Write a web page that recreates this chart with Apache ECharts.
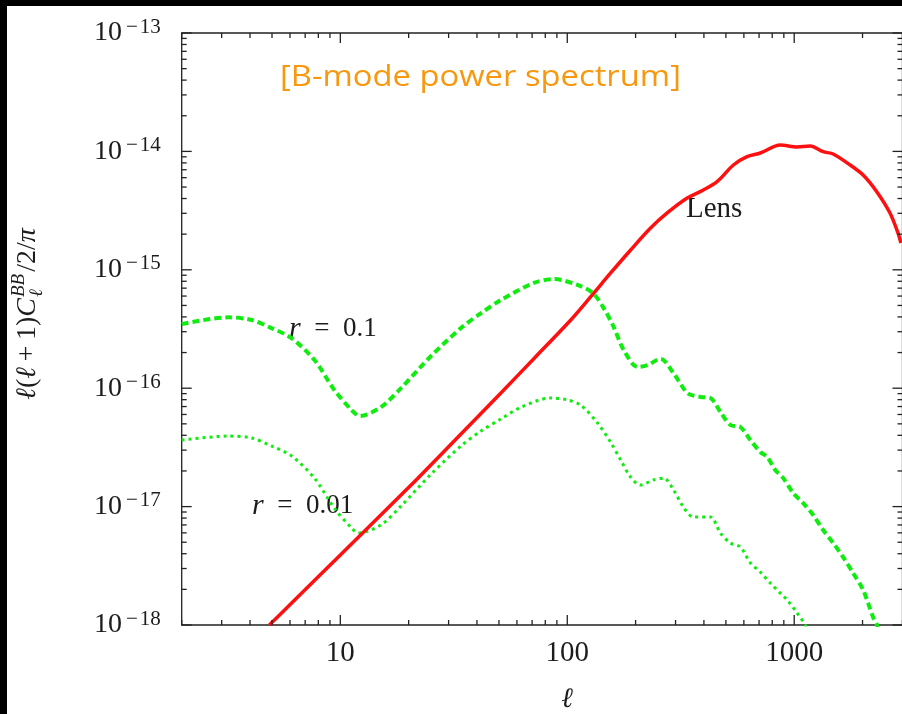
<!DOCTYPE html>
<html>
<head>
<meta charset="utf-8">
<script src="https://cdn.jsdelivr.net/npm/echarts@6/dist/echarts.min.js"></script>
<style>
  html, body { margin: 0; padding: 0; background: #fff; overflow: hidden; }
  #chart { width: 902px; height: 714px; }
</style>
</head>
<body>
<div id="chart"></div>
<script>
// Multipole range and power range of the plot
const X_MIN = 2, X_MAX = 3000;
const Y_MIN = 1e-18, Y_MAX = 1e-13;

// Tick labels
const xTickLabels = [10, 100, 1000];
const yTickExponents = [-18, -17, -16, -15, -14, -13];

// Lensing B-modes
const lensEll = [4.87, 10, 20.5, 34.7, 51, 71.9, 103.6, 126.9, 155.3, 190.2, 232.8, 275.6,
  337.6, 398, 457.3, 539.5, 619.7, 708.8, 868, 1028, 1176, 1341, 1484, 1763, 2011, 2310,
  2642, 2865, 2953];
const lensVal = [1.0e-18, 3.9e-18, 1.52e-17, 4.27e-17, 9.11e-17, 1.81e-16, 3.77e-16, 5.93e-16,
  9.4e-16, 1.47e-15, 2.25e-15, 3.02e-15, 4.04e-15, 4.72e-15, 5.55e-15, 7.68e-15, 9.02e-15,
  9.69e-15, 1.13e-14, 1.09e-14, 1.11e-14, 9.94e-15, 9.51e-15, 7.68e-15, 6.32e-15, 4.57e-15,
  3.02e-15, 2.05e-15, 1.68e-15];

// Primordial B-modes, r = 0.1
const r1Ell = [2, 3.21, 4.06, 4.97, 6.09, 7.69, 9.41, 11.2, 12.2, 15.1, 18.5, 25.1, 34.0, 41.7,
  51.0, 71.2, 87.3, 111.2, 129.5, 144.7, 160.1, 177.2, 204.2, 225.9, 257.6, 293.8, 338.6,
  386.3, 427.4, 472.8, 523.2, 578.9, 640.7, 708.8, 760.9, 825, 894.5, 990, 1095, 1212, 1341,
  1484, 1642, 1817, 2011, 2224, 2316, 2512];
const r1Val = [3.48e-16, 3.97e-16, 3.77e-16, 3.22e-16, 2.65e-16, 1.73e-16, 9.66e-17, 6.55e-17,
  5.82e-17, 6.93e-17, 1.0e-16, 1.87e-16, 3.22e-16, 4.31e-16, 5.56e-16, 7.74e-16, 8.35e-16,
  7.44e-16, 6.37e-16, 4.75e-16, 3.29e-16, 2.1e-16, 1.51e-16, 1.57e-16, 1.77e-16, 1.34e-16,
  9.1e-17, 8.43e-17, 8.26e-17, 6.29e-17, 4.89e-17, 4.7e-17, 3.65e-17, 2.89e-17, 2.62e-17,
  2.04e-17, 1.74e-17, 1.3e-17, 1.07e-17, 8.49e-18, 6.34e-18, 4.93e-18, 3.75e-18, 2.75e-18,
  1.98e-18, 1.17e-18, 1.0e-18, 6.0e-19];

// Primordial B-modes, r = 0.01
const r2Ell = [2, 3.2, 4.06, 4.97, 6.09, 7.69, 9.41, 11.2, 12.0, 15.1, 18.5, 25.1, 34.0, 41.7,
  51.0, 62.8, 84.5, 100.6, 114.5, 136, 155, 172, 190, 210, 240, 266, 294, 325, 359, 427, 473,
  523, 579, 641, 709, 784, 868, 931, 1031, 1118, 1236];
const r2Val = [3.65e-17, 3.94e-17, 3.8e-17, 3.25e-17, 2.68e-17, 1.74e-17, 9.7e-18, 6.6e-18,
  5.98e-18, 7.0e-18, 1.01e-17, 1.88e-17, 3.25e-17, 4.35e-17, 5.5e-17, 6.94e-17, 8.27e-17,
  7.95e-17, 7.21e-17, 5.08e-17, 3.51e-17, 2.47e-17, 1.78e-17, 1.52e-17, 1.68e-17, 1.74e-17,
  1.38e-17, 9.9e-18, 8.17e-18, 8.17e-18, 5.98e-18, 4.93e-18, 4.56e-18, 3.34e-18, 2.8e-18,
  2.26e-18, 1.86e-18, 1.63e-18, 1.26e-18, 1.0e-18, 7.0e-19];

const SERIF = "'Liberation Serif', 'DejaVu Serif', serif";
const TEXT = '#1c1c1c';

const pairs = (xs, ys) => xs.map((x, i) => [x, ys[i]]);

// Log-spaced tick positions (major at each decade, minor at 2..9)
function logTicks(lo, hi) {
  const out = [];
  for (let e = Math.floor(Math.log10(lo)); e <= Math.ceil(Math.log10(hi)); e++) {
    for (let m = 1; m <= 9; m++) {
      const v = m * Math.pow(10, e);
      if (v >= lo * 0.999 && v <= hi * 1.001) out.push([v, m === 1 ? 1 : 0]);
    }
  }
  return out;
}
const xTickData = logTicks(X_MIN, X_MAX).map(t => [t[0], Y_MIN, t[1]]);
const yTickData = logTicks(Y_MIN, Y_MAX).map(t => [X_MIN, t[0], t[1]]);

const MAJOR_LEN = 10, MINOR_LEN = 5;
const tickStyle = { stroke: '#222', lineWidth: 1.3 };

function renderXTick(params, api) {
  const cs = params.coordSys;
  const px = api.coord([api.value(0), Y_MIN])[0];
  const len = api.value(2) ? MAJOR_LEN : MINOR_LEN;
  const b = cs.y + cs.height, t = cs.y;
  return { type: 'group', children: [
    { type: 'line', shape: { x1: px, y1: b, x2: px, y2: b - len }, style: tickStyle },
    { type: 'line', shape: { x1: px, y1: t, x2: px, y2: t + len }, style: tickStyle }
  ]};
}
function renderYTick(params, api) {
  const cs = params.coordSys;
  const py = api.coord([X_MIN, api.value(1)])[1];
  const len = api.value(2) ? MAJOR_LEN : MINOR_LEN;
  const l = cs.x, r = cs.x + cs.width;
  return { type: 'group', children: [
    { type: 'line', shape: { x1: l, y1: py, x2: l + len, y2: py }, style: tickStyle },
    { type: 'line', shape: { x1: r, y1: py, x2: r - len, y2: py }, style: tickStyle }
  ]};
}

const isPow10 = v => Math.abs(Math.log10(v) - Math.round(Math.log10(v))) < 1e-6;

// Rotated y-axis title built from measured pieces
const measureCtx = document.createElement('canvas').getContext('2d');
function textWidth(str, size, italic) {
  measureCtx.font = (italic ? 'italic ' : '') + size + 'px ' + SERIF;
  return measureCtx.measureText(str).width;
}
function yTitle() {
  const main = 28, small = 19;
  const pieces = [];
  let x = 0;
  const put = (t, italic, size, dy) => {
    pieces.push({ t, italic, size, x, dy });
    x += textWidth(t, size, italic);
  };
  put('ℓ', true, main, 0);
  put('(', false, main, 0);
  put('ℓ', true, main, 0);
  put('\u2009+\u2009', false, main, 0);
  put('1)', false, main, 0);
  put('C', true, main, 0);
  const x0 = x;
  const wSup = textWidth('BB', small, true);
  const wSub = textWidth('ℓ', small, true);
  pieces.push({ t: 'BB', italic: true, size: small, x: x0 + 1, dy: -9 });
  pieces.push({ t: 'ℓ', italic: true, size: small, x: x0 + 1, dy: 9 });
  x = x0 + Math.max(wSup, wSub) + 3;
  put('/2/', false, main, 0);
  put('π', true, main, 0);
  const half = x / 2;
  return {
    type: 'group', x: 28, y: 314, rotation: Math.PI / 2, silent: true,
    children: pieces.map(p => ({
      type: 'text', x: p.x - half, y: p.dy,
      style: {
        text: p.t, fill: TEXT, fontFamily: SERIF, fontSize: p.size,
        fontStyle: p.italic ? 'italic' : 'normal',
        textAlign: 'left', textVerticalAlign: 'middle'
      }
    }))
  };
}

function mathLabel(x, y, valueText, size) {
  return {
    type: 'text', x, y, silent: true,
    style: {
      text: '{i|r}{n|\u2002=\u2002' + valueText + '}', textAlign: 'left', textVerticalAlign: 'middle',
      rich: {
        i: { fontFamily: SERIF, fontStyle: 'italic', fontSize: size + 3, fill: TEXT },
        n: { fontFamily: SERIF, fontSize: size, fill: TEXT }
      }
    }
  };
}

const chart = echarts.init(document.getElementById('chart'), null, { renderer: 'canvas' });
chart.setOption({
  backgroundColor: '#fff',
  animation: false,
  grid: {
    left: 181.7, top: 33, width: 720.8, height: 592,
    show: true, borderColor: '#222', borderWidth: 1.3, backgroundColor: 'transparent',
    outerBoundsMode: 'none', containLabel: false
  },
  xAxis: {
    type: 'log', logBase: 10, min: X_MIN, max: X_MAX,
    axisLine: { show: false }, axisTick: { show: false }, splitLine: { show: false },
    minorTick: { show: false },
    axisLabel: {
      margin: 14, color: TEXT, fontFamily: SERIF, fontSize: 29,
      showMinLabel: false, showMaxLabel: false,
      formatter: v => (isPow10(v) && xTickLabels.includes(Math.round(v))) ? String(Math.round(v)) : ''
    }
  },
  yAxis: {
    type: 'log', logBase: 10, min: Y_MIN, max: Y_MAX,
    axisLine: { show: false }, axisTick: { show: false }, splitLine: { show: false },
    minorTick: { show: false },
    axisLabel: {
      margin: 21, color: TEXT,
      formatter: v => {
        const e = Math.round(Math.log10(v));
        if (!isPow10(v) || !yTickExponents.includes(e)) return '';
        return '{b|10}{s|\u2009−\u200a' + Math.abs(e) + '}';
      },
      rich: {
        b: { fontFamily: SERIF, fontSize: 28, lineHeight: 33, color: TEXT },
        s: { fontFamily: SERIF, fontSize: 21, lineHeight: 19, verticalAlign: 'top', color: TEXT }
      }
    }
  },
  graphic: [
    { type: 'rect', shape: { x: 0, y: 0, width: 7, height: 714 }, style: { fill: '#000' }, silent: true },
    { type: 'rect', shape: { x: 0, y: 0, width: 902, height: 6 }, style: { fill: '#000' }, silent: true },
    {
      type: 'text', x: 280, y: 78, scaleX: 1.13, silent: true,
      style: {
        text: '[B-mode power spectrum]', fill: '#F7980F',
        fontFamily: "'Open Sans', 'Noto Sans', sans-serif", fontSize: 29,
        textAlign: 'left', textVerticalAlign: 'middle'
      }
    },
    {
      type: 'text', x: 686, y: 209, silent: true,
      style: { text: 'Lens', fill: TEXT, fontFamily: SERIF, fontSize: 29, textAlign: 'left', textVerticalAlign: 'middle' }
    },
    {
      type: 'text', x: 567, y: 700, silent: true,
      style: { text: 'ℓ', fill: TEXT, fontFamily: SERIF, fontStyle: 'italic', fontSize: 28, textAlign: 'center', textVerticalAlign: 'middle' }
    },
    mathLabel(289, 329, '0.1', 27),
    mathLabel(252, 506, '0.01', 27),
    yTitle()
  ],
  series: [
    {
      name: 'r = 0.1', type: 'line', data: pairs(r1Ell, r1Val), smooth: 0.3,
      symbol: 'none', clip: true, z: 3,
      lineStyle: { color: '#10EC10', width: 4, type: [7, 4], cap: 'butt' }
    },
    {
      name: 'r = 0.01', type: 'line', data: pairs(r2Ell, r2Val), smooth: 0.3,
      symbol: 'none', clip: true, z: 3,
      lineStyle: { color: '#10EC10', width: 3, type: [3, 4], cap: 'butt' }
    },
    {
      name: 'Lens', type: 'line', data: pairs(lensEll, lensVal), smooth: 0.3,
      symbol: 'none', clip: true, z: 4,
      lineStyle: { color: '#FF1010', width: 3.5 }
    },
    {
      type: 'custom', coordinateSystem: 'cartesian2d', renderItem: renderXTick,
      data: xTickData, encode: { x: 0, y: 1 }, silent: true, clip: false, z: 5
    },
    {
      type: 'custom', coordinateSystem: 'cartesian2d', renderItem: renderYTick,
      data: yTickData, encode: { x: 0, y: 1 }, silent: true, clip: false, z: 5
    }
  ]
});
</script>
</body>
</html>
